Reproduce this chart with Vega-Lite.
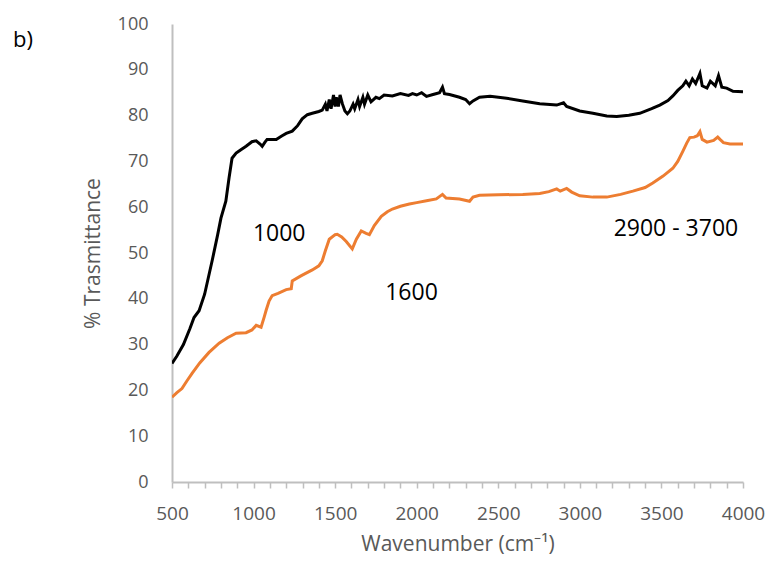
{
  "$schema": "https://vega.github.io/schema/vega-lite/v6.json",
  "autosize": "none",
  "width": 571,
  "height": 458,
  "padding": {"left": 172, "top": 24, "right": 26, "bottom": 85},
  "background": "white",
  "title": {"text": "b)", "anchor": "start", "frame": "group", "dx": -159, "dy": 37, "font": "Open Sans", "fontSize": 22, "fontWeight": "normal", "color": "#000000", "offset": 0},
  "config": {"view": {"stroke": null}, "font": "Open Sans"},
  "datasets": {
    "black": [
      {"x":500,"y":25.9},{"x":530,"y":27.5},{"x":570,"y":30},{"x":610,"y":33.5},{"x":635,"y":35.9},{"x":666,"y":37.4},{"x":700,"y":41},{"x":746,"y":48.3},{"x":780,"y":54},{"x":800,"y":57.6},{"x":830,"y":61.3},{"x":850,"y":66.5},{"x":868,"y":70.7},{"x":893,"y":71.8},{"x":920,"y":72.5},{"x":954,"y":73.3},{"x":990,"y":74.3},{"x":1016,"y":74.5},{"x":1040,"y":73.8},{"x":1053,"y":73.3},{"x":1070,"y":74.2},{"x":1083,"y":74.8},{"x":1139,"y":74.8},{"x":1170,"y":75.5},{"x":1200,"y":76.1},{"x":1237,"y":76.6},{"x":1270,"y":77.8},{"x":1298,"y":79.3},{"x":1330,"y":80.2},{"x":1360,"y":80.5},{"x":1400,"y":80.9},{"x":1421,"y":81.2},{"x":1440,"y":82.5},{"x":1450,"y":81},{"x":1464,"y":83.5},{"x":1475,"y":81.5},{"x":1490,"y":84.5},{"x":1500,"y":82},{"x":1507,"y":84},{"x":1520,"y":82},{"x":1530,"y":84.5},{"x":1545,"y":82.5},{"x":1560,"y":81},{"x":1575,"y":80.4},{"x":1590,"y":81},{"x":1610,"y":82.5},{"x":1620,"y":81.5},{"x":1640,"y":83.5},{"x":1650,"y":82},{"x":1670,"y":84},{"x":1680,"y":82.5},{"x":1700,"y":84.5},{"x":1720,"y":83},{"x":1750,"y":84},{"x":1771,"y":83.7},{"x":1800,"y":84.5},{"x":1851,"y":84.3},{"x":1900,"y":84.8},{"x":1950,"y":84.4},{"x":1974,"y":84.8},{"x":2000,"y":84.5},{"x":2030,"y":85},{"x":2060,"y":84.2},{"x":2100,"y":84.6},{"x":2140,"y":85},{"x":2158,"y":86.2},{"x":2170,"y":84.8},{"x":2201,"y":84.6},{"x":2262,"y":84},{"x":2300,"y":83.5},{"x":2324,"y":82.6},{"x":2345,"y":83.2},{"x":2385,"y":84},{"x":2450,"y":84.2},{"x":2551,"y":83.8},{"x":2650,"y":83.2},{"x":2754,"y":82.6},{"x":2858,"y":82.3},{"x":2900,"y":82.8},{"x":2919,"y":82},{"x":2999,"y":81},{"x":3080,"y":80.5},{"x":3165,"y":79.9},{"x":3226,"y":79.8},{"x":3300,"y":80.1},{"x":3367,"y":80.5},{"x":3440,"y":81.5},{"x":3490,"y":82.3},{"x":3540,"y":83.3},{"x":3570,"y":84.3},{"x":3600,"y":85.5},{"x":3631,"y":86.5},{"x":3650,"y":87.5},{"x":3670,"y":86.5},{"x":3690,"y":88},{"x":3710,"y":87},{"x":3736,"y":89.2},{"x":3750,"y":86.5},{"x":3779,"y":86},{"x":3800,"y":87.5},{"x":3830,"y":86.5},{"x":3850,"y":88.7},{"x":3870,"y":86.2},{"x":3900,"y":86},{"x":3939,"y":85.3},{"x":4000,"y":85.2}
    ],
    "orange": [
      {"x":500,"y":18.5},{"x":530,"y":19.5},{"x":561,"y":20.4},{"x":590,"y":22},{"x":623,"y":23.7},{"x":670,"y":26},{"x":727,"y":28.3},{"x":789,"y":30.3},{"x":840,"y":31.5},{"x":893,"y":32.5},{"x":954,"y":32.6},{"x":990,"y":33.2},{"x":1016,"y":34.2},{"x":1046,"y":33.8},{"x":1065,"y":36},{"x":1077,"y":37.5},{"x":1095,"y":39.5},{"x":1114,"y":40.7},{"x":1150,"y":41.2},{"x":1200,"y":42},{"x":1231,"y":42.2},{"x":1237,"y":43.9},{"x":1290,"y":45},{"x":1360,"y":46.3},{"x":1400,"y":47.2},{"x":1421,"y":48.3},{"x":1440,"y":50.5},{"x":1464,"y":53},{"x":1500,"y":54},{"x":1513,"y":54.1},{"x":1540,"y":53.5},{"x":1568,"y":52.5},{"x":1605,"y":50.9},{"x":1630,"y":53},{"x":1660,"y":54.8},{"x":1690,"y":54.3},{"x":1710,"y":54},{"x":1740,"y":56},{"x":1783,"y":58},{"x":1820,"y":59},{"x":1851,"y":59.6},{"x":1900,"y":60.2},{"x":1955,"y":60.7},{"x":2000,"y":61},{"x":2060,"y":61.4},{"x":2120,"y":61.8},{"x":2158,"y":62.8},{"x":2180,"y":62},{"x":2262,"y":61.8},{"x":2324,"y":61.3},{"x":2345,"y":62.2},{"x":2385,"y":62.6},{"x":2500,"y":62.7},{"x":2650,"y":62.8},{"x":2754,"y":63},{"x":2810,"y":63.4},{"x":2858,"y":64},{"x":2880,"y":63.5},{"x":2919,"y":64.1},{"x":2950,"y":63.3},{"x":2999,"y":62.5},{"x":3080,"y":62.2},{"x":3165,"y":62.2},{"x":3250,"y":62.8},{"x":3325,"y":63.5},{"x":3400,"y":64.3},{"x":3447,"y":65.3},{"x":3510,"y":66.8},{"x":3570,"y":68.5},{"x":3600,"y":70},{"x":3631,"y":72.2},{"x":3655,"y":74},{"x":3674,"y":75.2},{"x":3700,"y":75.3},{"x":3720,"y":75.6},{"x":3736,"y":76.5},{"x":3750,"y":74.8},{"x":3779,"y":74.2},{"x":3820,"y":74.6},{"x":3845,"y":75.3},{"x":3859,"y":74.8},{"x":3880,"y":74.1},{"x":3920,"y":73.8},{"x":4000,"y":73.8}
    ],
    "labels": [
      {"x":1157,"y":54.1,"t":"1000"},
      {"x":1968,"y":41.2,"t":"1600"},
      {"x":3589,"y":55.2,"t":"2900 - 3700"}
    ]
  },
  "encoding": {
    "x": {
      "field": "x", "type": "quantitative",
      "scale": {"domain": [500, 4000], "nice": false, "zero": false},
      "axis": {
        "title": "Wavenumber (cm⁻¹)",
        "values": [500,600,700,800,900,1000,1100,1200,1300,1400,1500,1600,1700,1800,1900,2000,2100,2200,2300,2400,2500,2600,2700,2800,2900,3000,3100,3200,3300,3400,3500,3600,3700,3800,3900,4000],
        "labelExpr": "datum.value % 500 === 0 ? format(datum.value, 'd') : ''",
        "labelOverlap": false,
        "labelBound": false,
        "labelFlush": false,
        "grid": false,
        "domainColor": "#BFBFBF", "domainWidth": 2,
        "tickColor": "#BFBFBF", "tickWidth": 1.5, "tickSize": 6,
        "labelColor": "#595959", "labelFontSize": 19, "labelFont": "Open Sans", "labelPadding": 16,
        "titleColor": "#595959", "titleFontSize": 21, "titleFont": "Open Sans", "titleFontWeight": "normal", "titlePadding": 10
      }
    },
    "y": {
      "field": "y", "type": "quantitative",
      "scale": {"domain": [0, 100], "nice": false},
      "axis": {
        "title": "% Trasmittance",
        "values": [0,10,20,30,40,50,60,70,80,90,100],
        "grid": false, "ticks": false,
        "labelOverlap": false,
        "domainColor": "#BFBFBF", "domainWidth": 2,
        "labelColor": "#595959", "labelFontSize": 18, "labelFont": "Open Sans", "labelPadding": 24,
        "titleColor": "#595959", "titleFontSize": 21, "titleFont": "Open Sans", "titleFontWeight": "normal", "titlePadding": 14
      }
    }
  },
  "layer": [
    {
      "data": {"name": "orange"},
      "mark": {"type": "line", "color": "#ED7D31", "strokeWidth": 3, "clip": true}
    },
    {
      "data": {"name": "black"},
      "mark": {"type": "line", "color": "#000000", "strokeWidth": 3, "clip": true}
    },
    {
      "data": {"name": "labels"},
      "mark": {"type": "text", "font": "Open Sans", "fontSize": 23, "color": "#000000", "align": "center", "baseline": "middle"},
      "encoding": {
        "text": {"field": "t"}
      }
    }
  ]
}
